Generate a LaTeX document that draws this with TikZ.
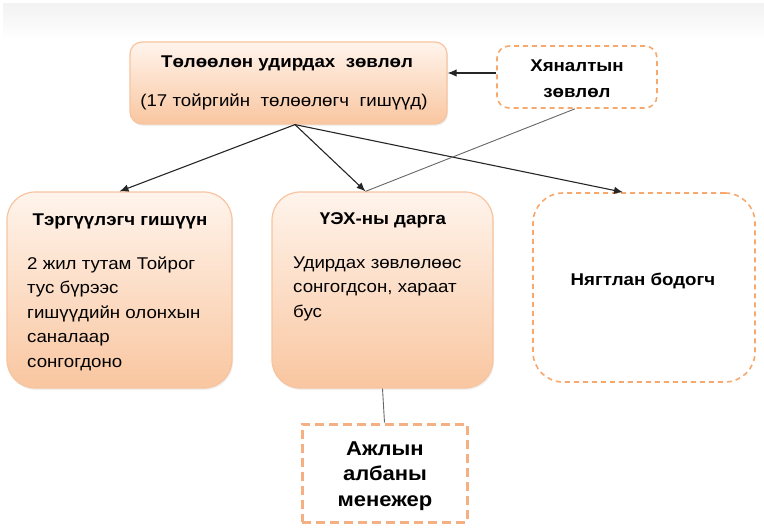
\documentclass[tikz,border=0pt]{standalone}
\usepackage{fontspec}
\setmainfont[FakeStretch=1.1]{Liberation Sans}
\usetikzlibrary{positioning,shadows,arrows.meta}

\definecolor{boxline}{HTML}{F7C4A0}
\definecolor{boxtop}{HTML}{FFF4EC}
\definecolor{boxbottom}{HTML}{F9C6A0}
\definecolor{dashline}{HTML}{F7A86C}
\definecolor{mgrline}{HTML}{F4B083}

\begin{document}
\begin{tikzpicture}[x=1pt,y=-1pt]

        % Styles for the boxes and texts
        \tikzset{solid box/.style={draw=boxline,
                                   line width=1.2pt,
                                   top color=boxtop,
                                   bottom color=boxbottom,
                                   drop shadow={opacity=0.12,
                                                shadow xshift=1pt,
                                                shadow yshift=-2pt}},
                 dash box/.style={draw=dashline,
                                  line width=1.6pt,
                                  dash pattern=on 5pt off 4pt,
                                  fill=white},
                 head text/.style={font=\fontsize{17}{20}\selectfont\bfseries},
                 body text/.style={font=\fontsize{17}{24.5}\selectfont,
                                   align=left, anchor=north west,
                                   inner sep=0pt},
                 link/.style={line width=1.1pt, draw=black!85,
                              -{Latex[length=9pt,width=7.5pt]}},
                 thin link/.style={line width=0.9pt, draw=black!60}}

        \useasboundingbox (0,0) rectangle (764,528);
        \shade[top color=black!5, bottom color=white] (3,3) rectangle (764,40);

        % Draw the boxes
        \node[solid box, minimum width=317pt, minimum height=82pt,
              rounded corners=12pt] at (288.5,83)  (TUZ)  {};
        \node[dash box, minimum width=160pt, minimum height=62pt,
              rounded corners=12pt] at (577,77)    (KhZ)  {};
        \node[solid box, minimum width=225pt, minimum height=196pt,
              rounded corners=28pt] at (119.5,290) (TG)   {};
        \node[solid box, minimum width=221pt, minimum height=196pt,
              rounded corners=28pt] at (382.5,290) (UEKh) {};
        \node[dash box, minimum width=222pt, minimum height=189pt,
              rounded corners=30pt] at (644,287.5) (NB)   {};
        \node[draw=mgrline, line width=3pt, dash pattern=on 9pt off 5pt,
              fill=white, minimum width=165pt, minimum height=98pt]
              at (384.5,473) (AM) {};

        % Texts in the boxes
        \node[head text] at (287,63)  (TUZhead) {Төлөөлөн удирдах\ \ зөвлөл};
        \node[font=\fontsize{17}{20}\selectfont] at (284,102) (TUZbody)
              {(17 тойргийн\ \ төлөөлөгч\ \ гишүүд)};
        \node[head text, align=center] at (577,79) (KhZhead)
              {Хяналтын\\[6pt]зөвлөл};
        \node[head text] at (120,221) (TGhead) {Тэргүүлэгч гишүүн};
        \node[body text] at (27,256.5) (TGbody)
              {2 жил тутам Тойрог\\тус бүрээс\\гишүүдийн олонхын\\саналаар\\сонгогдоно};
        \node[head text] at (383,220) (UEKhhead) {ҮЭХ-ны дарга};
        \node[body text] at (293,256.5) (UEKhbody)
              {Удирдах зөвлөлөөс\\сонгогдсон, хараат\\бус};
        \node[head text] at (643,281) (NBhead) {Нягтлан бодогч};
        \node[font=\fontsize{20}{25.5}\selectfont\bfseries, align=center]
              at (385,476) (AMhead) {Ажлын\\албаны\\менежер};

        % Connect the boxes
        \coordinate (apex) at ([xshift=6.5pt]TUZ.south);
        \draw[link] (apex) -- (TG.north);
        \draw[link] (apex) -- ([xshift=-17pt]UEKh.north);
        \draw[link] (apex) -- ([xshift=-21pt]NB.north);
        \draw[link] ([yshift=4pt]KhZ.west) -- ([yshift=4pt]KhZ.west -| TUZ.east);
        \draw[thin link] ([xshift=-17pt]UEKh.north) -- ([xshift=-2pt]KhZ.south);
        \draw[thin link] (UEKh.south) -- (AM.north);
    \end{tikzpicture}
\end{document}
